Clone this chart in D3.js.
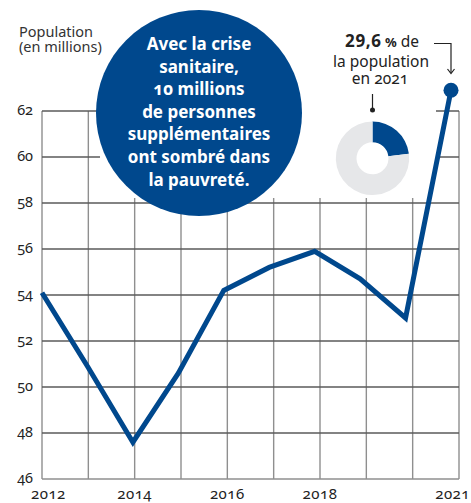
<!DOCTYPE html>
<html>
<head>
<meta charset="utf-8">
<script src="https://cdn.jsdelivr.net/npm/d3@7"></script>
<style>
  body { margin: 0; background: #fff; }
  text { font-family: "Noto Sans", sans-serif; }
</style>
</head>
<body>
<div id="chart"></div>
<script>
// data
const years = [2012, 2013, 2014, 2015, 2016, 2017, 2018, 2019, 2020, 2021];
const population = [54.1, 50.9, 47.6, 50.6, 54.2, 55.2, 55.9, 54.7, 53.0, 62.9];
const yTicks = [46, 48, 50, 52, 54, 56, 58, 60, 62];
const xLabels = [2012, 2014, 2016, 2018, 2021];
const donutValues = [23, 77];  // share drawn in the donut (as it appears)
const bubbleLines = ["Avec la crise", "sanitaire,", "10 millions", "de personnes",
                     "supplémentaires", "ont sombré dans", "la pauvreté."];

const W = 471, H = 503;
const blue = "#00488d";

const svg = d3.select("#chart")
  .append("svg")
    .attr("width", W)
    .attr("height", H);

// scales
const xGrid = d3.scaleLinear().domain([2012, 2021]).range([42, 459]);
const xLine = d3.scaleLinear().domain([2012, 2021]).range([42, 451]);
const y = d3.scaleLinear().domain([46, 62]).range([479, 111]);

// grid
svg.append("g")
  .selectAll("line")
  .data(years)
  .join("line")
    .attr("x1", d => xGrid(d))
    .attr("x2", d => xGrid(d))
    .attr("y1", y(62))
    .attr("y2", y(46))
    .attr("stroke", "#8f8f8f")
    .attr("stroke-width", 1.4);

svg.append("g")
  .selectAll("line")
  .data(yTicks)
  .join("line")
    .attr("x1", xGrid(2012))
    .attr("x2", xGrid(2021))
    .attr("y1", d => y(d))
    .attr("y2", d => y(d))
    .attr("stroke", d => d == 46 ? "#8f8f8f" : "#5a5a5a")
    .attr("stroke-width", 1.3);

// white area behind the bubble and the note
svg.append("rect")
  .attr("x", 100).attr("y", 0)
  .attr("width", 336).attr("height", 198)
  .attr("fill", "#fff");

// y labels
svg.append("g")
  .selectAll("text")
  .data(yTicks)
  .join("text")
    .attr("x", 33)
    .attr("y", d => y(d) + 4)
    .attr("text-anchor", "end")
    .style("font-size", "14.5px")
    .style("font-variant-numeric", "oldstyle-nums")
    .attr("fill", "#222")
    .text(d => d);

// x labels, kept inside the picture
const xl = svg.append("g")
  .selectAll("text")
  .data(xLabels)
  .join("text")
    .attr("x", d => xGrid(d))
    .attr("y", 499)
    .attr("text-anchor", "middle")
    .style("font-size", "15px")
    .style("letter-spacing", "0.5px")
    .style("font-variant-numeric", "oldstyle-nums")
    .attr("fill", "#222")
    .text(d => d);
xl.each(function(d) {
  const b = this.getBBox();
  if (b.x < 31) d3.select(this).attr("x", xGrid(d) + (31 - b.x));
  if (b.x + b.width > 470) d3.select(this).attr("x", xGrid(d) - (b.x + b.width - 470));
});

// axis title
svg.append("text")
  .attr("x", 19).attr("y", 36.5)
  .style("font-size", "14.5px").attr("fill", "#333")
  .text("Population");
svg.append("text")
  .attr("x", 19).attr("y", 52)
  .style("font-size", "14.5px").attr("fill", "#333")
  .text("(en millions)");

// line
svg.append("path")
  .datum(years.map((d, i) => [d, population[i]]))
  .attr("d", d3.line()
    .x(d => xLine(d[0]))
    .y(d => y(d[1])))
  .attr("fill", "none")
  .attr("stroke", blue)
  .attr("stroke-width", 5)
  .attr("stroke-linejoin", "miter");

svg.append("circle")
  .attr("cx", xLine(2021))
  .attr("cy", y(population[9]))
  .attr("r", 7.5)
  .attr("fill", blue);

// bubble
svg.append("circle")
  .attr("cx", 199).attr("cy", 113).attr("r", 103)
  .attr("fill", blue);

svg.append("g")
  .selectAll("text")
  .data(bubbleLines)
  .join("text")
    .attr("x", 199)
    .attr("y", (d, i) => 50 + i * 22.6)
    .attr("text-anchor", "middle")
    .style("font-size", "17px")
    .style("font-weight", "bold")
    .style("font-variant-numeric", "oldstyle-nums")
    .attr("fill", "#fff")
    .text(d => d);

// note
const note = svg.append("text")
  .attr("x", 382).attr("y", 47)
  .attr("text-anchor", "middle")
  .style("font-size", "15.5px")
  .attr("fill", "#222");
note.append("tspan").style("font-weight", "bold").style("font-size", "17px")
  .style("letter-spacing", "0.6px").text("29,6");
note.append("tspan").style("font-weight", "bold").style("font-size", "13px").text(" %");
note.append("tspan").text(" de");

svg.append("text")
  .attr("x", 381).attr("y", 66.5)
  .attr("text-anchor", "middle")
  .style("font-size", "15.5px").attr("fill", "#222")
  .text("la population");
svg.append("text")
  .attr("x", 380).attr("y", 84)
  .attr("text-anchor", "middle")
  .style("font-size", "15.5px").attr("fill", "#222")
  .style("font-variant-numeric", "oldstyle-nums")
  .text("en 2021");

// pointer to donut
svg.append("line")
  .attr("x1", 372.5).attr("x2", 372.5)
  .attr("y1", 94).attr("y2", 110)
  .attr("stroke", "#222").attr("stroke-width", 1.2);
svg.append("circle")
  .attr("cx", 372.5).attr("cy", 110).attr("r", 2.5)
  .attr("fill", "#222");

// pointer to 2021 point
svg.append("path")
  .attr("d", `M434,43.5 H${xLine(2021)} V73`)
  .attr("fill", "none").attr("stroke", "#222").attr("stroke-width", 1.2);
svg.append("path")
  .attr("d", `M${xLine(2021) - 3.5},69 L${xLine(2021)},73.5 L${xLine(2021) + 3.5},69`)
  .attr("fill", "none").attr("stroke", "#222").attr("stroke-width", 1.2);

// donut
const pie = d3.pie().sort(null)(donutValues);
const arc = d3.arc().innerRadius(16).outerRadius(36.7);
svg.append("g")
  .attr("transform", "translate(372.5,158.3)")
  .selectAll("path")
  .data(pie)
  .join("path")
    .attr("d", arc)
    .attr("fill", (d, i) => i == 0 ? blue : "#e6e7e9");
</script>
</body>
</html>
